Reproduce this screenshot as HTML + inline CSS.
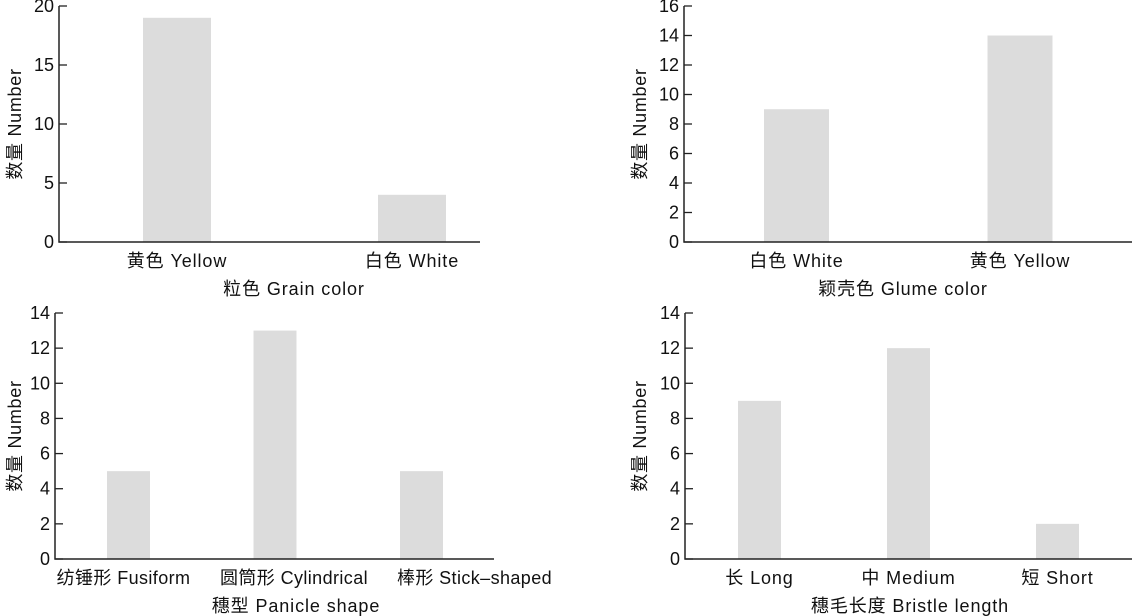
<!DOCTYPE html>
<html><head><meta charset="utf-8"><style>
html,body{margin:0;padding:0;background:#fff;}
svg{display:block;font-family:"Liberation Sans","Noto Sans CJK SC",sans-serif;}
</style></head><body>
<svg id="c" width="1134" height="616" viewBox="0 0 1134 616"></svg>
<script>
const cats1=["黄色 Yellow","白色 White"];
const vals1=[19,4];
const ticks1=[0,5,10,15,20];
const cats2=["白色 White","黄色 Yellow"];
const vals2=[9,14];
const ticks2=[0,2,4,6,8,10,12,14,16];
const cats3=["纺锤形 Fusiform","圆筒形 Cylindrical","棒形 Stick–shaped"];
const vals3=[5,13,5];
const ticks3=[0,2,4,6,8,10,12,14];
const cats4=["长 Long","中 Medium","短 Short"];
const vals4=[9,12,2];
const ticks4=[0,2,4,6,8,10,12,14];
const titles=["粒色 Grain color","颖壳色 Glume color","穗型 Panicle shape","穗毛长度 Bristle  length"];

const NS="http://www.w3.org/2000/svg";
const svg=document.getElementById('c');
function mk(tag,attrs,parent){const e=document.createElementNS(NS,tag);for(const k in attrs)e.setAttribute(k,attrs[k]);parent.appendChild(e);return e;}

const layouts=[
 {x0:59,x1:480,yT:6,yB:242,c0:177,step:235,bw:68,ytx:15,lx:[0,0,0],tc:294,ls:'0.9'},
 {x0:684,x1:1132,yT:6,yB:242,c0:796.5,step:223.5,bw:65,ytx:640,lx:[0,0,0],tc:903,ls:'0.9'},
 {x0:55,x1:494,yT:313,yB:559,c0:128.5,step:146.5,bw:43,ytx:15,lx:[-5,19,53],tc:296,ls:'0.4'},
 {x0:685,x1:1132,yT:313,yB:559,c0:759.5,step:149,bw:43,ytx:640,lx:[0,0,0],tc:910,ls:'0.9'}
];
const data=[[cats1,vals1,ticks1],[cats2,vals2,ticks2],[cats3,vals3,ticks3],[cats4,vals4,ticks4]];
const FS='18';

data.forEach((d,ci)=>{
 const [cats,vals,ticks]=d;const L=layouts[ci];
 const g=mk('g',{},svg);
 
 
 const max=ticks[ticks.length-1];
 const y=v=>L.yB-(v/max)*(L.yB-L.yT);
 const x=i=>L.c0+i*L.step;
 vals.forEach((v,i)=>{
  const r=mk('rect',{x:x(i)-L.bw/2,y:y(v),width:L.bw,height:L.yB-y(v),fill:'#dcdcdc'},g);
  
  
  const t=mk('text',{x:x(i)+L.lx[i],y:L.yB+25,'text-anchor':'middle','font-size':FS,'letter-spacing':L.ls,fill:'#111'},g);
  t.textContent=cats[i];
  
  
 });
 ticks.forEach(tv=>{
  mk('line',{x1:L.x0,x2:L.x0+8,y1:y(tv),y2:y(tv),stroke:'#222','stroke-width':1.3},g);
  const t=mk('text',{x:L.x0-5,y:y(tv)+6,'text-anchor':'end','font-size':FS,fill:'#111'},g);
  t.textContent=tv;
  
  
 });
 const ax=mk('path',{d:`M${L.x0},${L.yT}V${L.yB}H${L.x1}`,fill:'none',stroke:'#222','stroke-width':1.5},g);
 
 
 const xt=mk('text',{x:L.tc,y:L.yB+53,'text-anchor':'middle','font-size':FS,'letter-spacing':'0.9',fill:'#111'},g);
 xt.textContent=titles[ci];
 
 
 const cy=(L.yT+L.yB)/2;
 const yt=mk('text',{x:L.ytx,y:cy,'text-anchor':'middle','font-size':FS,'letter-spacing':'0.7',fill:'#111',transform:`rotate(-90 ${L.ytx} ${cy}) translate(0 6)`},g);
 yt.textContent='数量 Number';
 
 
});
</script>
</body></html>
